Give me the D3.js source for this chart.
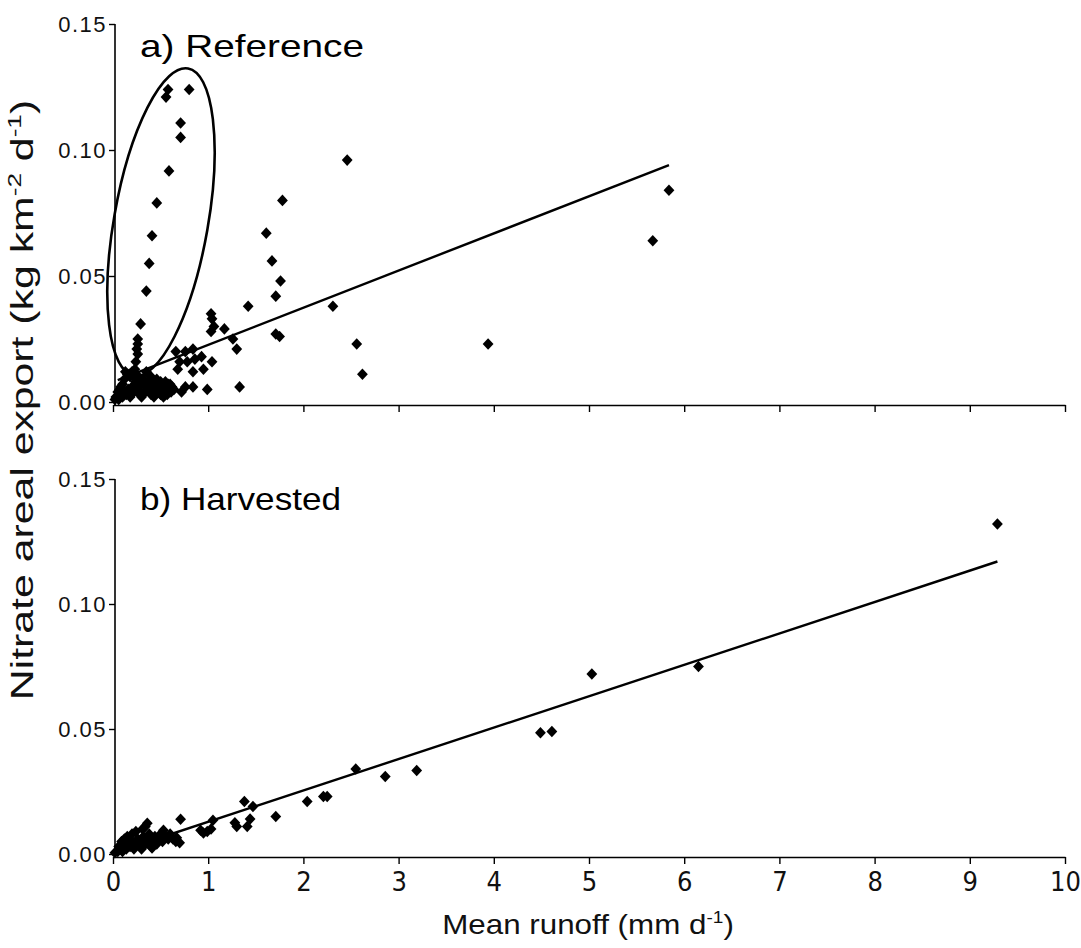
<!DOCTYPE html>
<html><head><meta charset="utf-8">
<script src="https://cdn.jsdelivr.net/npm/d3@7"></script>
<style>body{margin:0;background:#fff}svg{display:block}</style>
</head><body>
<svg id="c" width="1081" height="948"></svg>
<script>
// ---- data ----
const xTicks = [0,1,2,3,4,5,6,7,8,9,10];
const yTicks = [0, 0.05, 0.10, 0.15];
const yTickLabels = ["0.00","0.05","0.10","0.15"];
const panelLabels = ["a) Reference", "b) Harvested"];

// Panel a (reference) points [runoff, export]
const refX = [0.578,0.557,0.80,0.71,0.71,0.588,0.46,0.41,0.38,0.35,0.29,0.26,0.26,0.25,0.26,0.24,0.23,
  2.46,5.84,5.67,2.31,2.56,3.94,2.62,
  1.78,1.61,1.67,1.76,1.71,1.42,
  1.03,1.04,1.06,1.03,1.17,1.26,1.30,1.71,1.75,
  0.66,0.76,0.84,0.86,0.70,0.78,0.93,1.04,0.68,0.84,0.95,
  0.76,0.84,0.99,1.33,0.72,
  0.02,0.04,0.06,0.08,0.10,0.12,0.14,0.16,0.18,0.20,0.22,0.24,0.26,0.28,0.30,0.32,0.34,0.36,0.38,0.40,
  0.42,0.44,0.46,0.48,0.50,0.52,0.55,0.58,0.60,0.62,0.64,0.12,0.15,0.18,0.08,0.05,0.20,0.22,0.10,0.30,
  0.40,0.50,0.35,0.45,0.55,0.03,0.07,0.13,0.17,0.27,0.33,0.43,0.53,0.57,0.61];
const refY = [0.124,0.121,0.124,0.1107,0.105,0.0917,0.079,0.066,0.055,0.044,0.031,0.025,0.023,0.021,0.019,0.016,0.013,
  0.096,0.084,0.064,0.038,0.023,0.023,0.011,
  0.080,0.067,0.056,0.048,0.042,0.038,
  0.035,0.033,0.030,0.028,0.029,0.025,0.021,0.027,0.026,
  0.020,0.020,0.021,0.017,0.016,0.016,0.018,0.016,0.013,0.012,0.013,
  0.006,0.006,0.005,0.006,0.004,
  0.001,0.002,0.001,0.003,0.002,0.004,0.003,0.005,0.002,0.006,0.004,0.008,0.005,0.003,0.007,0.009,0.004,0.006,0.008,0.010,
  0.005,0.007,0.009,0.004,0.008,0.006,0.008,0.007,0.007,0.006,0.005,0.009,0.011,0.010,0.006,0.004,0.012,0.010,0.007,0.002,
  0.003,0.003,0.012,0.006,0.004,0.002,0.005,0.012,0.011,0.010,0.004,0.002,0.002,0.003,0.004];

// Panel b (harvested) points
const harvX = [9.29,6.15,5.03,4.49,4.61,3.19,2.86,2.55,2.04,2.21,2.25,1.71,1.38,1.47,1.44,1.28,1.30,1.41,1.05,0.95,0.99,1.03,0.92,
  0.71,0.53,0.67,0.70,0.34,0.36,0.31,
  0.02,0.05,0.08,0.10,0.12,0.14,0.16,0.18,0.20,0.22,0.24,0.26,0.28,0.30,0.32,0.34,0.36,0.38,0.40,0.42,0.44,0.46,0.48,0.50,
  0.52,0.55,0.58,0.60,0.63,0.66,0.12,0.06,0.09,0.15,0.20,0.24,0.41,0.30];
const harvY = [0.132,0.075,0.072,0.0485,0.049,0.0334,0.031,0.034,0.021,0.023,0.023,0.015,0.021,0.019,0.014,0.0125,0.011,0.011,0.0135,0.0084,0.009,0.010,0.0095,
  0.0139,0.0095,0.0065,0.0045,0.011,0.0123,0.0100,
  0.0005,0.001,0.002,0.001,0.003,0.002,0.004,0.003,0.005,0.002,0.004,0.006,0.003,0.005,0.007,0.004,0.006,0.008,0.003,0.005,0.007,0.004,0.006,0.008,
  0.005,0.007,0.006,0.008,0.006,0.005,0.006,0.003,0.005,0.007,0.008,0.009,0.0024,0.002];

// regression lines (end points)
const refLineX = [0.05, 5.84];
const refLineY = [0.0087, 0.094];
const harvLineX = [0.08, 9.29];
const harvLineY = [0.0013, 0.117];

// ellipse annotation (panel a): centre in data units
const ellipseCentre = [0.504, 0.0714];

// ---- drawing ----
const svg = d3.select("#c");
const FONT = "Liberation Sans, Arial, Helvetica, sans-serif";
const x = d3.scaleLinear().domain([0,10]).range([113,1065]);
const panels = [
  {y: d3.scaleLinear().domain([0,0.15]).range([402,24]), xs: refX, ys: refY, lx: refLineX, ly: refLineY, label: panelLabels[0], labY: 57, labW: 224, showX:false},
  {y: d3.scaleLinear().domain([0,0.15]).range([854,479]), xs: harvX, ys: harvY, lx: harvLineX, ly: harvLineY, label: panelLabels[1], labY: 510, labW: 201, showX:true}
];
const diamond = "M0,-5.8L5.4,0L0,5.8L-5.4,0Z";

panels.forEach((p,i) => {
  const g = svg.append("g");
  // y axis
  const ya = d3.axisLeft(p.y).tickValues(yTicks).tickFormat((d,j)=>yTickLabels[j]).tickSize(6).tickSizeOuter(0);
  const yg = g.append("g").attr("transform","translate(115,0)").call(ya);
  yg.select(".domain").attr("stroke","#000").attr("stroke-width",1.6).attr("d",`M0,${p.y(0)+3}V${p.y(0.15)}`);
  yg.selectAll(".tick line").attr("stroke","#000").attr("stroke-width",1.4);
  yg.selectAll(".tick text").attr("x",-8).attr("font-family",FONT)
    .attr("font-size",22).attr("letter-spacing","1.5px").attr("fill","#111");
  // x axis
  const xa = d3.axisBottom(x).tickValues(xTicks).tickSize(7).tickSizeOuter(0).tickFormat(p.showX? d3.format("d") : "");
  const xg = g.append("g").attr("transform",`translate(0,${p.y(0)+3})`).call(xa);
  xg.select(".domain").attr("stroke","#000").attr("stroke-width",1.6);
  xg.selectAll(".tick line").attr("stroke","#000").attr("stroke-width",1.4);
  xg.selectAll(".tick text").attr("y",15).attr("font-family","Liberation Sans Narrow, DejaVu Sans Condensed, Arial, sans-serif")
    .attr("font-size",27).attr("fill","#111");
  // regression line
  g.append("line").attr("x1",x(p.lx[0])).attr("y1",p.y(p.ly[0])).attr("x2",x(p.lx[1])).attr("y2",p.y(p.ly[1]))
    .attr("stroke","#000").attr("stroke-width",2.4);
  // points
  g.selectAll("path.pt").data(p.xs.map((v,k)=>[v,p.ys[k]])).join("path").attr("class","pt")
    .attr("d",diamond).attr("transform",d=>`translate(${x(d[0])},${p.y(d[1])})`).attr("fill","#000");
  // panel label
  g.append("text").attr("x",140).attr("y",p.labY).attr("font-family",FONT)
    .attr("font-size",32).attr("textLength",p.labW).attr("lengthAdjust","spacingAndGlyphs")
    .attr("fill","#000").text(p.label);
  if (i===0) {
    g.append("ellipse").attr("cx",0).attr("cy",0).attr("rx",47).attr("ry",156)
      .attr("transform",`translate(${x(ellipseCentre[0])},${p.y(ellipseCentre[1])}) rotate(10)`)
      .attr("fill","none").attr("stroke","#000").attr("stroke-width",2.6);
  }
});

// axis titles
const xt = svg.append("text").attr("transform","translate(588,934) scale(1.12,1)").attr("text-anchor","middle")
  .attr("font-family",FONT).attr("font-size",28).attr("fill","#111");
xt.append("tspan").text("Mean runoff (mm d");
xt.append("tspan").attr("font-size",17).attr("dy",-11).text("-1");
xt.append("tspan").attr("dy",11).text(")");

const yt = svg.append("text").attr("transform","translate(33,400) rotate(-90) scale(1.38,1)").attr("text-anchor","middle")
  .attr("font-family",FONT).attr("font-size",31).attr("fill","#111");
yt.append("tspan").text("Nitrate areal export (kg km");
yt.append("tspan").attr("font-size",19).attr("dy",-12).text("-2");
yt.append("tspan").attr("dy",12).text(" d");
yt.append("tspan").attr("font-size",19).attr("dy",-12).text("-1");
yt.append("tspan").attr("dy",12).text(")");
</script>
</body></html>
